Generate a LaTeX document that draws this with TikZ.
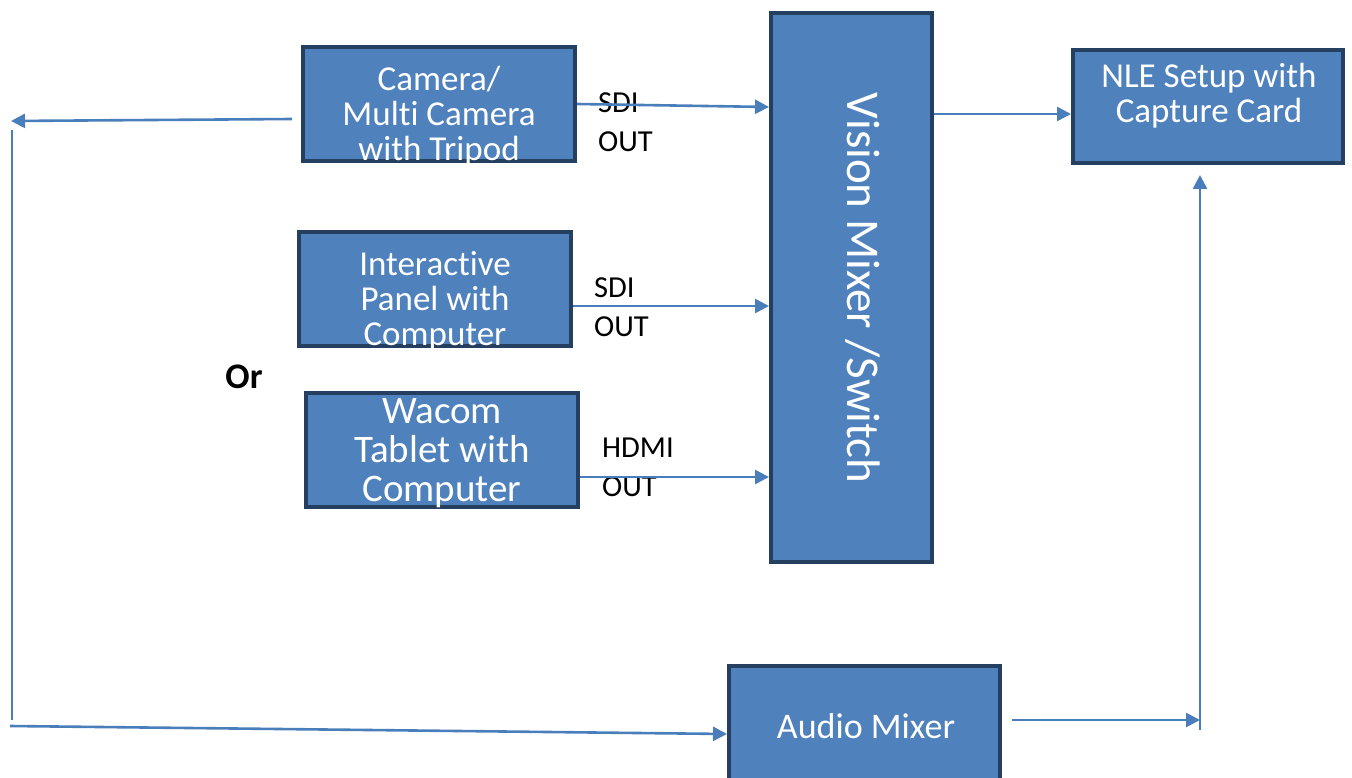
\documentclass[tikz,border=0pt]{standalone}
\usepackage{fontspec}
\setmainfont{Carlito}[Ligatures={NoCommon,NoRequired,NoContextual},Contextuals=NoAlternate]
\usetikzlibrary{arrows.meta}
\definecolor{boxblue}{HTML}{4F81BD}
\definecolor{boxedge}{HTML}{243F60}
\definecolor{linkblue}{HTML}{4A7EBB}

\begin{document}
\begin{tikzpicture}[x=1pt,y=1pt,yscale=-1,xscale=1,
  blk/.style={draw=boxedge,fill=boxblue,line width=4pt,inner sep=0pt,minimum width=272pt,minimum height=114pt},
  blktxt/.style={text=white,align=center,inner sep=0pt,font=\fontsize{35}{35}\selectfont},
  cable/.style={draw=linkblue,line width=2.6pt},
  link/.style={cable,-{Triangle[length=14pt,width=14pt]}},
  port/.style={anchor=north west,align=left,inner sep=0pt,font=\fontsize{30.5}{39}\selectfont}]
\useasboundingbox (0,0) rectangle (1352,778);

%Shape: Rectangles
\node [blk] (cam) at (439,104) {};
\node [blk] (panel) at (435,289) {};
\node [blk] (wacom) at (442,450) {};
\node [blk,minimum width=161pt,minimum height=549pt] (mixer) at (851.5,287.5) {};
\node [blk,minimum width=270pt,minimum height=113pt] (nle) at (1208,106.5) {};
\node [blk,minimum width=271pt,minimum height=122pt] (audio) at (864.5,727) {};

% Text Node
\node [blktxt] (camtxt) at (439,116) {Camera/\\Multi Camera\\with Tripod};
\node [blktxt] (paneltxt) at (435,301) {Interactive\\Panel with\\Computer};
\node [blktxt,font=\fontsize{39}{39}\selectfont] (wacomtxt) at (442,453) {Wacom\\Tablet with\\Computer};
\node [blktxt,font=\fontsize{47}{50}\selectfont,rotate=-90] (mixertxt) at (863,288) {Vision Mixer /Switch};
\node [blktxt] (nletxt) at (1209,96) {NLE Setup with\\Capture Card};
\node [blktxt,font=\fontsize{36}{36}\selectfont] (audiotxt) at (866,726) {Audio Mixer};
\node [font=\fontsize{36}{36}\selectfont\bfseries,inner sep=0pt] (ortxt) at (244,377) {Or};

% Port labels
\node [port] (camport) at (598,93) {SDI\\OUT};
\node [port] (panelport) at (594,278) {SDI\\OUT};
\node [port] (wacomport) at (602,438) {HDMI\\OUT};

% Free ends
\coordinate (camback) at (292,119);
\coordinate (lt) at (11,121);
\coordinate (lb) at (12,720);
\coordinate (lbb) at (10,726);
\coordinate (audout) at (1012,720);
\coordinate (rt) at (1200,175);
\coordinate (rb) at (1200,730);

%Straight Lines
\draw [link] (cam.east) -- (mixer.west |- 0,107);
\draw [link] (panel.east |- 0,306) -- (mixer.west |- 0,306);
\draw [link] (wacom.east |- 0,477) -- (mixer.west |- 0,477);
\draw [link] (mixer.east |- 0,114) -- (nle.west |- 0,114);
\draw [link] (camback) -- (lt);
\draw [cable] (lb) -- (12,130);
\draw [link] (lbb) -- (audio.west |- 0,734);
\draw [link] (audout) -- (rb |- audout);
\draw [link] (rb) -- (rt);

\end{tikzpicture}
\end{document}
